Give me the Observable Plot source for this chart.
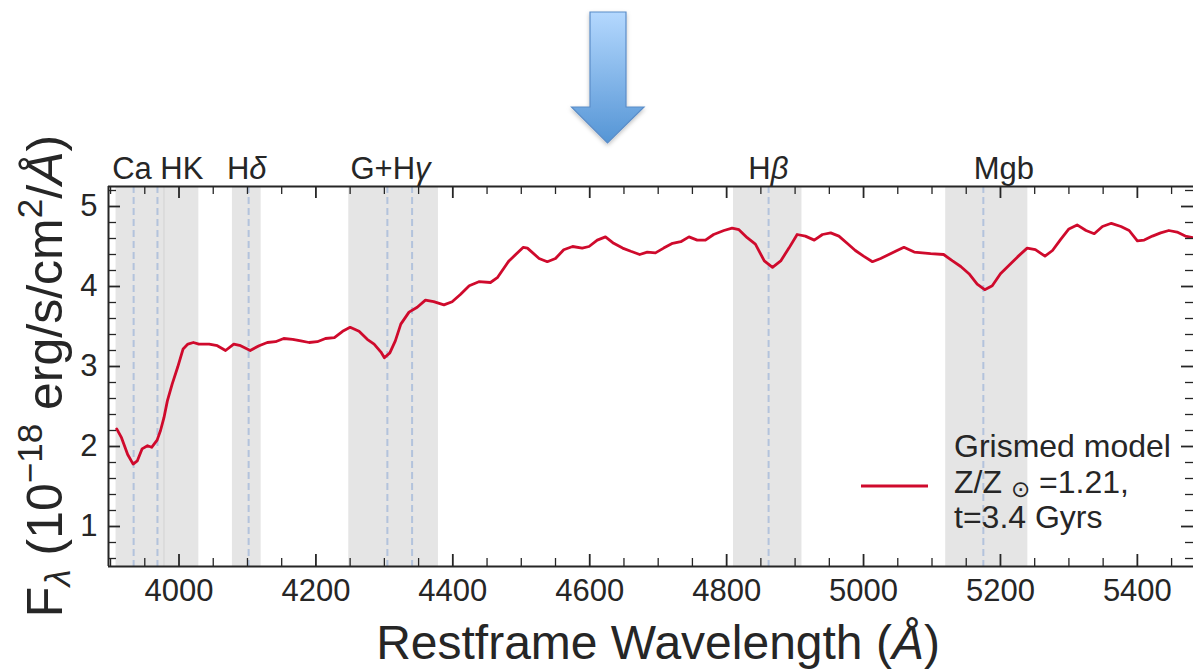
<!DOCTYPE html>
<html><head><meta charset="utf-8">
<script src="https://cdn.jsdelivr.net/npm/d3@7"></script>
<script src="https://cdn.jsdelivr.net/npm/@observablehq/plot@0.6"></script>
<style>
body{margin:0;background:#fff;overflow:hidden}
#chart svg{display:block}
</style>
</head><body><div id="chart"></div>
<script>
// ---- data ----
const wavelength = [3909,3916,3925,3933,3939,3946,3954,3960,3968,3973,3978,3983,3990,3998,4006,4013,4021,4029,4044,4056,4068,4080,4090,4104,4117,4129,4141,4153,4166,4178,4190,4202,4214,4227,4239,4250,4263,4275,4285,4295,4300,4308,4316,4324,4336,4348,4360,4372,4387,4399,4411,4424,4438,4455,4465,4482,4503,4509,4526,4538,4550,4562,4575,4589,4599,4611,4623,4635,4648,4660,4673,4684,4696,4708,4721,4733,4745,4757,4769,4781,4796,4808,4818,4830,4842,4855,4867,4879,4891,4903,4915,4928,4940,4952,4964,4976,4988,5000,5013,5025,5037,5049,5059,5074,5086,5098,5117,5130,5142,5154,5166,5177,5188,5200,5213,5225,5239,5251,5265,5276,5288,5300,5312,5325,5337,5349,5362,5376,5388,5400,5410,5422,5434,5446,5458,5470,5482];
const flux = [2.22,2.11,1.90,1.78,1.82,1.97,2.01,1.99,2.08,2.20,2.36,2.57,2.78,2.99,3.22,3.28,3.30,3.28,3.28,3.26,3.20,3.28,3.26,3.20,3.26,3.30,3.31,3.35,3.34,3.32,3.30,3.31,3.35,3.36,3.44,3.49,3.44,3.34,3.28,3.18,3.11,3.17,3.32,3.53,3.68,3.74,3.83,3.81,3.77,3.81,3.90,4.01,4.06,4.05,4.11,4.32,4.49,4.48,4.35,4.31,4.35,4.46,4.50,4.48,4.50,4.58,4.62,4.54,4.48,4.44,4.40,4.43,4.42,4.48,4.54,4.56,4.62,4.58,4.58,4.65,4.70,4.73,4.71,4.61,4.53,4.32,4.24,4.32,4.48,4.65,4.63,4.58,4.65,4.67,4.63,4.54,4.45,4.38,4.31,4.35,4.40,4.45,4.49,4.43,4.42,4.41,4.40,4.32,4.25,4.16,4.03,3.96,4.01,4.16,4.27,4.37,4.48,4.46,4.38,4.45,4.59,4.72,4.77,4.70,4.66,4.75,4.79,4.75,4.70,4.57,4.58,4.63,4.67,4.70,4.68,4.63,4.61];
const bandStart = [3908, 4078, 4248, 4810, 5120];
const bandEnd   = [4029, 4120, 4379, 4910, 5240];
const bandSeam  = [3978];
const lineCenters = [3933.7, 3968.5, 4101.7, 4304.4, 4340.5, 4861.3, 5175.0];
const featureNames = ["Ca HK", "Hδ", "G+Hγ", "Hβ", "Mgb"];
const featureLabelX = [3969, 4099, 4309, 4861, 5205];
const xTickValues = [4000, 4200, 4400, 4600, 4800, 5000, 5200, 5400];
const yTickValues = [1, 2, 3, 4, 5];
const legendLines = ["Grismed model", "Z/Z\u2299=1.21,", "t=3.4 Gyrs"];

// ---- layout ----
const W = 1193, H = 669, mL = 108, mR = 0, mT = 186, mB = 103;
const xDomain = [3897, 5482], yDomain = [0.5, 5.25];
const xPerPx = (xDomain[1] - xDomain[0]) / (W - mL - mR);
const yPerPx = (yDomain[1] - yDomain[0]) / (H - mT - mB);
const ink = "#262626";
const red = "#cf0a2c";

const spectrum = wavelength.map((w, i) => ({w, f: flux[i]}));
const bands = bandStart.map((s, i) => ({s, e: bandEnd[i]}));
const features = featureNames.map((n, i) => ({n, x: featureLabelX[i]}));
const xMinor = d3.range(3900, 5451, 50).filter(v => v % 200 !== 0 && v >= xDomain[0] && v <= xDomain[1]);
const yMinor = d3.range(6, 53, 2).map(v => v / 10).filter(v => Math.abs(v - Math.round(v)) > 1e-9);

const majX = 12 * yPerPx, minX = 8 * yPerPx;
const majY = 12 * xPerPx, minY = 8 * xPerPx;

const plot = Plot.plot({
  width: W, height: H,
  marginLeft: mL, marginRight: mR, marginTop: mT, marginBottom: mB,
  x: {domain: xDomain},
  y: {domain: yDomain},
  style: {fontFamily: "'Liberation Sans', Arial, sans-serif", fontSize: "31px", color: ink, background: "#fff"},
  marks: [
    Plot.rect(bands, {x1: "s", x2: "e", fill: "#e5e5e5"}),
    Plot.ruleX(bandSeam, {stroke: "#d2d2d2", strokeWidth: 1}),
    Plot.ruleX(lineCenters, {stroke: "#b3c3dc", strokeWidth: 2, strokeDasharray: "7,4"}),
    Plot.line(spectrum, {x: "w", y: "f", stroke: red, strokeWidth: 2.8}),
    // spines
    Plot.ruleY([yDomain[0], yDomain[1]], {stroke: ink, strokeWidth: 2}),
    Plot.ruleX([xDomain[0]], {stroke: ink, strokeWidth: 2}),
    // inward ticks
    Plot.ruleX(xTickValues, {y1: yDomain[0], y2: yDomain[0] + majX, stroke: ink, strokeWidth: 1.8}),
    Plot.ruleX(xTickValues, {y1: yDomain[1], y2: yDomain[1] - majX, stroke: ink, strokeWidth: 1.8}),
    Plot.ruleX(xMinor, {y1: yDomain[0], y2: yDomain[0] + minX, stroke: ink, strokeWidth: 1.3}),
    Plot.ruleX(xMinor, {y1: yDomain[1], y2: yDomain[1] - minX, stroke: ink, strokeWidth: 1.3}),
    Plot.ruleY(yTickValues, {x1: xDomain[0], x2: xDomain[0] + majY, stroke: ink, strokeWidth: 1.8}),
    Plot.ruleY(yTickValues, {x1: xDomain[1], x2: xDomain[1] - majY, stroke: ink, strokeWidth: 1.8}),
    Plot.ruleY(yMinor, {x1: xDomain[0], x2: xDomain[0] + minY, stroke: ink, strokeWidth: 1.3}),
    Plot.ruleY(yMinor, {x1: xDomain[1], x2: xDomain[1] - minY, stroke: ink, strokeWidth: 1.3}),
    // tick labels
    Plot.axisX(xTickValues, {tickSize: 0, tickPadding: 12, tickFormat: d => String(d), fontSize: 31, fill: ink, label: null}),
    Plot.axisY(yTickValues, {tickSize: 0, tickPadding: 11, tickFormat: d => String(d), fontSize: 31, fill: ink, label: null}),
    // feature labels
    Plot.text(features, {x: "x", text: "n", frameAnchor: "top", lineAnchor: "bottom", dy: -8, fontSize: 31, fill: ink})
  ]
});

const svg = d3.select(plot);
// italic greek letters in feature labels
svg.selectAll("text").each(function() {
  const s = this.textContent;
  if (!featureNames.includes(s) || !/[\u03b1-\u03c9]/.test(s)) return;
  const t = d3.select(this);
  t.text(null);
  for (const ch of s) {
    const sp = t.append("tspan").text(ch);
    if (/[\u03b1-\u03c9]/.test(ch)) sp.attr("font-style", "italic");
  }
});

const fam = "'Liberation Sans', Arial, sans-serif";
// y-axis title
const yt = svg.append("text")
  .attr("transform", "translate(62,376) rotate(-90)")
  .attr("text-anchor", "middle").attr("font-size", 50).attr("fill", ink)
  .attr("font-family", fam).style("white-space", "pre");
yt.append("tspan").text("F");
yt.append("tspan").attr("font-size", 35).attr("font-style", "italic").attr("dy", 8).text("λ");
yt.append("tspan").attr("dy", -8).text(" (10");
yt.append("tspan").attr("font-size", 35).attr("dy", -20).text("−18");
yt.append("tspan").attr("dy", 20).text(" erg/s/cm");
yt.append("tspan").attr("font-size", 35).attr("dy", -20).text("2");
yt.append("tspan").attr("dy", 20).text("/");
yt.append("tspan").attr("font-style", "italic").text("Å");
yt.append("tspan").text(")");

// x-axis title
const xt = svg.append("text")
  .attr("x", 658).attr("y", 659)
  .attr("text-anchor", "middle").attr("font-size", 48).attr("fill", ink)
  .attr("font-family", fam).style("white-space", "pre");
xt.append("tspan").text("Restframe Wavelength (");
xt.append("tspan").attr("font-style", "italic").text("Å");
xt.append("tspan").text(")");

// legend
const lg = svg.append("g").attr("font-family", fam).attr("font-size", 32).attr("fill", ink).attr("text-anchor", "start");
lg.append("line").attr("x1", 861).attr("x2", 928).attr("y1", 486).attr("y2", 486)
  .attr("stroke", red).attr("stroke-width", 2.8);
lg.append("text").attr("x", 954).attr("y", 457).attr("text-anchor", "start").text(legendLines[0]);
const l2 = lg.append("text").attr("x", 954).attr("y", 493).attr("text-anchor", "start").style("white-space", "pre");
const parts = legendLines[1].split("\u2299");
l2.append("tspan").text(parts[0] + " ");
l2.append("tspan").attr("font-family", "'DejaVu Sans', sans-serif").attr("font-size", 23).attr("dy", 4).text("\u2299");
l2.append("tspan").attr("dy", -4).text(" " + parts[1]);
lg.append("text").attr("x", 954).attr("y", 528).attr("text-anchor", "start").text(legendLines[2]);

// decorative arrow
const defs = svg.append("defs");
const gr = defs.append("linearGradient").attr("id", "arrowGrad").attr("x1", 0).attr("y1", 0).attr("x2", 0).attr("y2", 1);
gr.append("stop").attr("offset", 0).attr("stop-color", "#b4d8fe");
gr.append("stop").attr("offset", 1).attr("stop-color", "#5595d5");
const flt = defs.append("filter").attr("id", "arrowShadow").attr("x", "-30%").attr("y", "-30%").attr("width", "160%").attr("height", "160%");
flt.append("feDropShadow").attr("dx", 0).attr("dy", 2).attr("stdDeviation", 2).attr("flood-color", "#000").attr("flood-opacity", 0.25);
svg.append("path")
  .attr("d", "M590,12 L626,12 L626,107 L644,107 L607.5,143 L571.5,107 L590,107 Z")
  .attr("fill", "url(#arrowGrad)").attr("stroke", "#5b8dc8").attr("stroke-width", 1.2)
  .attr("filter", "url(#arrowShadow)");

document.getElementById("chart").appendChild(plot);
</script>
</body></html>
